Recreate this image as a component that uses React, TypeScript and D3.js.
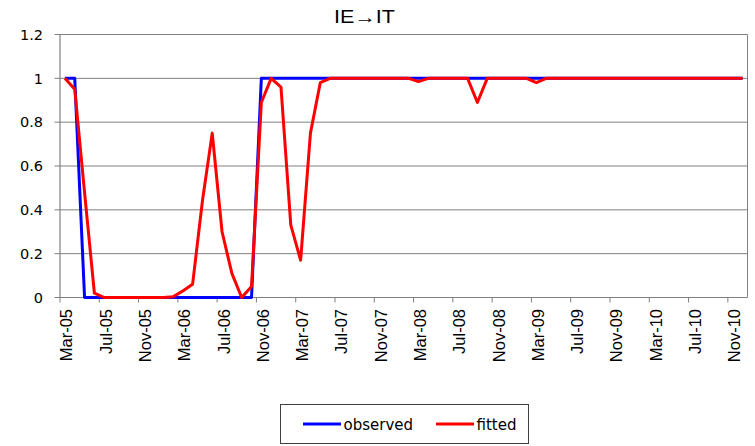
import React from "react";
import * as d3 from "d3";

const months: Date[] = d3.timeMonths(new Date(2005, 2, 1), new Date(2011, 0, 1));

const observed: number[] = [
  1, 1, 0, 0, 0, 0, 0, 0, 0, 0,
  0, 0, 0, 0, 0, 0, 0, 0, 0, 0,
  1, 1, 1, 1, 1, 1, 1, 1, 1, 1,
  1, 1, 1, 1, 1, 1, 1, 1, 1, 1,
  1, 1, 1, 1, 1, 1, 1, 1, 1, 1,
  1, 1, 1, 1, 1, 1, 1, 1, 1, 1,
  1, 1, 1, 1, 1, 1, 1, 1, 1, 1,
];

const fitted: number[] = [
  1, 0.95, 0.48, 0.02, 0, 0, 0, 0, 0, 0,
  0, 0.003, 0.03, 0.06, 0.44, 0.75, 0.3, 0.11, 0, 0.05,
  0.89, 1, 0.96, 0.33, 0.17, 0.75, 0.98, 1, 1, 1,
  1, 1, 1, 1, 1, 1, 0.985, 1, 1, 1,
  1, 1, 0.89, 1, 1, 1, 1, 1, 0.98, 1,
  1, 1, 1, 1, 1, 1, 1, 1, 1, 1,
  1, 1, 1, 1, 1, 1, 1, 1, 1, 1,
];

const yTicks: number[] = [0, 0.2, 0.4, 0.6, 0.8, 1, 1.2];
const seriesNames = ["observed", "fitted"];
const seriesColors = ["#0000ff", "#ff0000"];

const W = 755;
const H = 446;
const plot = { left: 60, right: 747.5, top: 34.5, bottom: 297.5 };
const arial = "'Liberation Sans', Arial, sans-serif";
const wide = "'DejaVu Sans', Verdana, sans-serif";

export default function App() {
  const idx = months.map((_, i) => i);
  const x = d3.scaleBand<number>().domain(idx).range([plot.left, plot.right]).padding(0);
  const y = d3.scaleLinear().domain([0, 1.2]).range([plot.bottom, plot.top]);
  const cx = (i: number) => (x(i) as number) + x.bandwidth() / 2;
  const fmt = d3.timeFormat("%b-%y");

  const line = d3
    .line<number>()
    .x((_, i) => cx(i))
    .y((d) => y(d));

  const labelIdx = idx.filter((i) => i % 4 === 0);

  return (
    <svg width={W} height={H} style={{ position: "absolute", left: 0, top: 0, background: "#fff" }}>
      <text
        x={364.5}
        y={22.7}
        textAnchor="middle"
        fontFamily={arial}
        fontSize={17.5}
        textLength={61}
        lengthAdjust="spacingAndGlyphs"
        fill="#000"
      >
        IE→IT
      </text>

      {/* grid + y axis */}
      {yTicks.map((t) => (
        <g key={t}>
          <line x1={plot.left} x2={plot.right} y1={y(t)} y2={y(t)} stroke="#808080" strokeWidth={1} />
          <line x1={plot.left - 5.5} x2={plot.left} y1={y(t)} y2={y(t)} stroke="#808080" strokeWidth={1} />
          <text x={43} y={y(t)} dy="0.36em" textAnchor="end" fontFamily={wide} fontSize={14.5} fill="#000">
            {t}
          </text>
        </g>
      ))}
      <line x1={plot.right} x2={plot.right} y1={plot.top} y2={plot.bottom} stroke="#808080" strokeWidth={1} />
      <line x1={plot.left} x2={plot.left} y1={plot.top} y2={plot.bottom} stroke="#808080" strokeWidth={1.2} />

      {/* x axis */}
      {labelIdx.map((i) => (
        <g key={i}>
          <line x1={x(i)} x2={x(i)} y1={plot.bottom} y2={plot.bottom + 5} stroke="#808080" strokeWidth={1} />
          <text
            transform={`translate(${cx(i) + 1.5},${plot.bottom + 11.5}) rotate(-90)`}
            textAnchor="end"
            dy="0.36em"
            fontFamily={arial}
            fontSize={16.5}
            fill="#000"
          >
            {fmt(months[i])}
          </text>
        </g>
      ))}

      <path d={line(observed) ?? ""} fill="none" stroke={seriesColors[0]} strokeWidth={3} strokeLinejoin="round" />
      <path d={line(fitted) ?? ""} fill="none" stroke={seriesColors[1]} strokeWidth={3} strokeLinejoin="round" />

      {/* legend */}
      <rect x={280.5} y={404.5} width={248} height={39} fill="#fff" stroke="#404040" strokeWidth={1} />
      {seriesNames.map((name, k) => {
        const lx = k === 0 ? 303 : 436;
        return (
          <g key={name}>
            <line x1={lx} x2={lx + 38} y1={424} y2={424} stroke={seriesColors[k]} strokeWidth={3} />
            <text x={lx + 40.5} y={430} fontFamily={wide} fontSize={15} fill="#000">
              {name}
            </text>
          </g>
        );
      })}
    </svg>
  );
}
